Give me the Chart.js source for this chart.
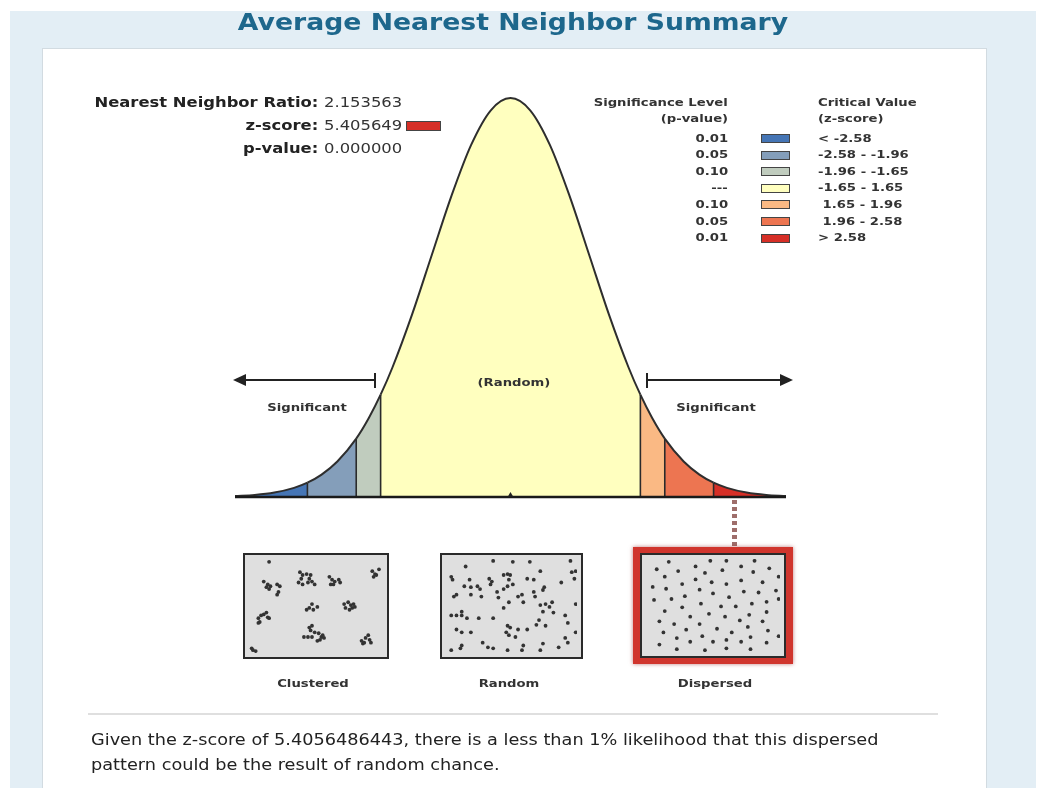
<!DOCTYPE html>
<html>
<head>
<meta charset="utf-8">
<script src="https://cdn.jsdelivr.net/npm/chart.js@4.4.1/dist/chart.umd.min.js"></script>
<style>
html, body { margin: 0; padding: 0; }
body { width: 1046px; height: 788px; background: #fff; position: relative; overflow: hidden;
  font-family: "DejaVu Sans", Verdana, sans-serif; color: #333; }
.bg { position: absolute; left: 10px; top: 11px; width: 1026px; height: 790px; background: #e3eef5; }
.panel { position: absolute; left: 42px; top: 48px; width: 943px; height: 760px; background: #fff; border: 1px solid #d2dbe1; }
.t { position: absolute; white-space: pre; }
.box { position: absolute; box-sizing: border-box; border: 2px solid #2a2a2a; background: #dfdfdf; }
.box canvas { position: absolute; left: 0; top: 0; }
#curve { position: absolute; left: 200px; top: 80px; }
svg { position: absolute; left: 0; top: 0; }
</style>
</head>
<body>
<div class="bg"></div>
<div class="panel"></div>
<canvas id="curve" width="630" height="440"></canvas>
<svg width="1046" height="788">
  <line x1="240" y1="380" x2="375" y2="380" stroke="#222" stroke-width="2"/>
  <polygon points="233,380 246,374 246,386" fill="#222"/>
  <line x1="375" y1="373" x2="375" y2="388" stroke="#222" stroke-width="2"/>
  <line x1="647" y1="380" x2="786" y2="380" stroke="#222" stroke-width="2"/>
  <polygon points="793,380 780,374 780,386" fill="#222"/>
  <line x1="647" y1="373" x2="647" y2="388" stroke="#222" stroke-width="2"/>
  <line x1="88" y1="714" x2="938" y2="714" stroke="#d4d4d4" stroke-width="1.5"/>
  <line x1="734.5" y1="500" x2="734.5" y2="546" stroke="#9e6e6b" stroke-width="5" stroke-dasharray="4,3"/>
</svg>
<div class="box" style="left:243px;top:553px;width:146px;height:106px;"><canvas id="clustered" width="142" height="102"></canvas></div>
<div class="box" style="left:440px;top:553px;width:143px;height:106px;"><canvas id="random" width="139" height="102"></canvas></div>
<div style="position:absolute;left:633px;top:547px;width:160px;height:117px;background:#d0352d;box-shadow:0 0 4px rgba(150,40,40,0.6);"></div>
<div class="box" style="left:640px;top:553px;width:146px;height:105px;"><canvas id="dispersed" width="142" height="101"></canvas></div>

<script>
// curve: z-score vs height of the bell
const zValues = [-3.5, -3.25, -3, -2.75, -2.58, -2.4, -2.2, -1.96, -1.8, -1.65, -1.5, -1.25, -1, -0.75, -0.5, -0.25,
  0, 0.25, 0.5, 0.75, 1, 1.25, 1.5, 1.65, 1.8, 1.96, 2.2, 2.4, 2.58, 2.75, 3, 3.25, 3.5];
const density = [0.0009, 0.002, 0.0044, 0.0091, 0.0143, 0.0224, 0.0355, 0.0584, 0.079, 0.1023, 0.1295, 0.1826, 0.242, 0.3011, 0.3521, 0.3867,
  0.3989, 0.3867, 0.3521, 0.3011, 0.242, 0.1826, 0.1295, 0.1023, 0.079, 0.0584, 0.0355, 0.0224, 0.0143, 0.0091, 0.0044, 0.002, 0.0009];

const criticalValues = [-2.58, -1.96, -1.65, 1.65, 1.96, 2.58];
const classColors = ['#4575b5', '#849eba', '#c0ccbe', '#ffffbf', '#fab984', '#ed7551', '#d62f27'];
const pLevels = ['0.01', '0.05', '0.10', '---', '0.10', '0.05', '0.01'];
const zRanges = ['< -2.58', '-2.58 - -1.96', '-1.96 - -1.65', '-1.65 - 1.65', ' 1.65 - 1.96', ' 1.96 - 2.58', '> 2.58'];

const statLabels = ['Nearest Neighbor Ratio:', 'z-score:', 'p-value:'];
const statValues = ['2.153563', '5.405649', '0.000000'];
const zScoreText = '5.4056486443';

const patternNames = ['Clustered', 'Random', 'Dispersed'];
const clusteredPts = [[15,3],
  [38,14],[40,17],[43,16],[46,17],[37,25],[40,27],[44,25],[47,24],[49,27],[39,21],[45,21],
  [11,24],[13,30],[15,32],[16,29],[21,27],[23,29],[22,35],[21,38],[14,27],
  [60,19],[62,22],[64,24],[67,22],[68,25],[63,27],[61,27],
  [92,13],[94,16],[97,11],[95,17],[93,19],
  [43,54],[45,52],[47,48],[48,54],[51,51],
  [71,48],[74,46],[76,49],[78,48],[75,54],[72,52],[77,52],[79,51],
  [7,63],[9,60],[11,59],[14,62],[15,63],[8,67],[7,68],[13,57],
  [45,73],[47,71],[46,76],[49,78],[52,79],[54,83],[53,86],[51,87],[44,83],[41,83],[47,83],[55,81],[56,84],
  [84,87],[85,90],[87,84],[90,86],[91,89],[86,89],[89,81],
  [2,95],[3,97],[5,98]];
const randomPts = [[15,8],[4,19],[5,22],[18,22],[14,29],[19,30],[24,29],[26,32],[33,21],[35,24],[34,27],
  [44,17],[47,16],[49,17],[48,22],[51,27],[47,29],[44,32],[39,35],[40,41],[27,40],[19,38],[8,38],[6,40],
  [58,38],[55,40],[62,21],[67,22],[72,13],[75,30],[74,33],[67,35],[68,40],[59,46],[48,46],[72,49],[76,48],
  [79,51],[81,46],[74,56],[82,57],[88,25],[96,14],[98,21],[99,13],[95,2],[51,3],[64,3],[36,2],[99,48],
  [91,60],[93,68],[99,78],[91,84],[93,89],[86,94],[74,90],[72,97],[59,92],[58,97],[47,97],[36,95],[32,94],
  [28,89],[12,92],[11,95],[4,97],[8,75],[12,78],[19,78],[47,71],[49,73],[46,78],[48,81],[53,83],[55,75],
  [62,75],[71,65],[69,70],[76,71],[36,63],[25,63],[16,63],[12,60],[8,60],[4,60],[12,56],[44,52]];
const dispersedPts = [[8,11],[24,13],[37,8],[44,15],[57,12],[71,8],[80,14],[92,10],[17,3],[48,2],[60,2],[81,2],
  [14,19],[27,27],[37,22],[49,25],[60,27],[71,23],[87,25],[99,19],
  [5,30],[15,32],[29,40],[40,33],[50,37],[62,41],[73,35],[84,36],[97,34],
  [6,44],[19,43],[27,52],[41,48],[56,51],[67,51],[79,48],[90,46],[99,43],
  [14,56],[33,62],[47,59],[59,62],[70,66],[77,60],[90,57],
  [10,67],[21,70],[30,76],[40,70],[53,75],[64,79],[76,73],[87,67],[91,77],
  [13,79],[23,85],[33,89],[42,83],[50,89],[60,87],[71,89],[78,84],[90,90],[99,83],
  [10,92],[23,97],[44,98],[60,96],[78,97]];

// text helpers: source text is stretched horizontally
function addText(parts, x, baseline, size, align, sx, extra) {
  const d = document.createElement('div');
  d.className = 't';
  parts.forEach(function (p) {
    const s = document.createElement('span');
    s.textContent = p[0];
    if (p[1]) s.style.fontWeight = 'bold';
    d.appendChild(s);
  });
  d.style.fontSize = size + 'px';
  d.style.lineHeight = size + 'px';
  d.style.top = (baseline - 0.846 * size) + 'px';
  if (align === 'right') {
    d.style.right = (1046 - x) + 'px';
    d.style.textAlign = 'right';
    d.style.transformOrigin = '100% 50%';
  } else if (align === 'center') {
    d.style.left = (x - 400) + 'px';
    d.style.width = '800px';
    d.style.textAlign = 'center';
    d.style.transformOrigin = '50% 50%';
  } else {
    d.style.left = x + 'px';
    d.style.transformOrigin = '0 50%';
  }
  d.style.transform = 'scaleX(' + sx + ')';
  if (extra) Object.assign(d.style, extra);
  document.body.appendChild(d);
  return d;
}

addText([['Average Nearest Neighbor Summary', true]], 513, 30, 23, 'center', 1.16, { color: '#1d678c' });

statLabels.forEach(function (lab, i) {
  addText([[lab, true]], 318, 107 + i * 23, 14, 'right', 1.17, { color: '#222' });
  addText([[statValues[i], false]], 324, 107 + i * 23, 14, 'left', 1.17, { color: '#333' });
});
const zBox = document.createElement('div');
Object.assign(zBox.style, { position: 'absolute', left: '406px', top: '121px', width: '33px', height: '8px',
  background: classColors[6], border: '1px solid #444' });
document.body.appendChild(zBox);

addText([['Significance Level', true]], 728, 106, 11, 'right', 1.2);
addText([['(p-value)', true]], 728, 122, 11, 'right', 1.2);
addText([['Critical Value', true]], 818, 106, 11, 'left', 1.2);
addText([['(z-score)', true]], 818, 122, 11, 'left', 1.2);
pLevels.forEach(function (p, i) {
  const base = 142 + i * 16.6;
  addText([[p, true]], 728, base, 11, 'right', 1.2);
  addText([[zRanges[i], true]], 818, base, 11, 'left', 1.2);
  const sw = document.createElement('div');
  Object.assign(sw.style, { position: 'absolute', left: '761px', top: (base - 8) + 'px', width: '27px', height: '7px',
    background: classColors[i], border: '1px solid #444' });
  document.body.appendChild(sw);
});

addText([['Significant', true]], 307, 411, 11, 'center', 1.2);
addText([['Significant', true]], 716, 411, 11, 'center', 1.2);
addText([['(Random)', true]], 514, 386, 11, 'center', 1.2);
addText([[patternNames[0], true]], 313, 687, 11, 'center', 1.2);
addText([[patternNames[1], true]], 509, 687, 11, 'center', 1.2);
addText([[patternNames[2], true]], 715, 687, 11, 'center', 1.2);

addText([['Given the z-score of ' + zScoreText + ', there is a less than 1% likelihood that this dispersed', false]],
  91, 746, 15, 'left', 1.18, { color: '#222' });
addText([['pattern could be the result of random chance.', false]], 91, 771, 15, 'left', 1.18, { color: '#222' });

// bell curve
const curvePts = zValues.map(function (z, i) { return { x: z, y: density[i] }; });
const edgePts = [];
criticalValues.forEach(function (c) {
  const h = density[zValues.indexOf(c)];
  edgePts.push({ x: c, y: 0 }, { x: c, y: h }, { x: c, y: null });
});
function classOf(z) {
  let k = 0;
  criticalValues.forEach(function (c) { if (z > c) k++; });
  return k;
}

new Chart(document.getElementById('curve'), {
  type: 'line',
  data: {
    datasets: [
      { data: [{ x: 0, y: 0.002 }], showLine: false, pointStyle: 'triangle', pointRadius: 3,
        pointBackgroundColor: '#222', pointBorderWidth: 0, clip: false },
      { data: [{ x: -3.5, y: 0 }, { x: 3.5, y: 0 }], borderColor: '#1a1a1a', borderWidth: 2.5, pointRadius: 0, clip: false },
      { data: edgePts, borderColor: '#2b2b2b', borderWidth: 1.6, pointRadius: 0, tension: 0, spanGaps: false },
      { data: curvePts, borderColor: '#2e2e2e', borderWidth: 2, pointRadius: 0, cubicInterpolationMode: 'monotone',
        fill: 'origin', backgroundColor: classColors[3], clip: false,
        segment: {
          backgroundColor: function (ctx) {
            return classColors[classOf((ctx.p0.parsed.x + ctx.p1.parsed.x) / 2)];
          }
        } }
    ]
  },
  options: {
    responsive: false,
    animation: false,
    devicePixelRatio: 1,
    layout: { padding: { left: 35, right: 44, top: 17, bottom: 23 } },
    scales: {
      x: { type: 'linear', min: -3.5, max: 3.5, display: false },
      y: { min: 0, max: 0.4, display: false }
    },
    plugins: { legend: { display: false }, tooltip: { enabled: false } }
  }
});

function patternChart(id, pts) {
  new Chart(document.getElementById(id), {
    type: 'scatter',
    data: { datasets: [{ data: pts.map(function (p) { return { x: p[0], y: p[1] }; }),
      pointRadius: 1.9, pointBackgroundColor: '#333', pointBorderWidth: 0 }] },
    options: {
      responsive: false,
      animation: false,
      devicePixelRatio: 1,
      layout: { padding: 0 },
      scales: {
        x: { min: 0, max: 100, display: false },
        y: { min: 0, max: 100, reverse: true, display: false }
      },
      plugins: { legend: { display: false }, tooltip: { enabled: false } }
    }
  });
}
patternChart('clustered', clusteredPts);
patternChart('random', randomPts);
patternChart('dispersed', dispersedPts);
</script>
</body>
</html>
